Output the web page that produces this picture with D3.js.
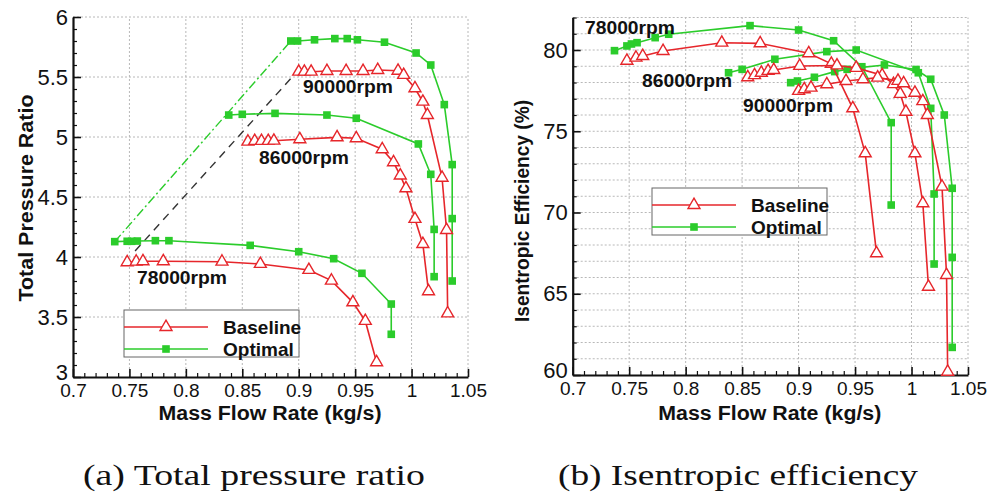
<!DOCTYPE html>
<html>
<head>
<meta charset="utf-8">
<script src="https://cdn.jsdelivr.net/npm/d3@7"></script>
<style>
  html, body { margin: 0; padding: 0; background: #fff; }
  svg { display: block; }
  text { font-family: "Liberation Sans", Arial, sans-serif; fill: #111; }
</style>
</head>
<body>
<svg id="chart" width="1005" height="495"></svg>
<script>
// Operating points per speed line: mass flow (kg/s), total pressure ratio, isentropic efficiency (%)
const flow78B = [0.748, 0.756, 0.762, 0.780, 0.832, 0.866, 0.909, 0.929, 0.948, 0.959, 0.969];
const pr78B   = [3.956, 3.961, 3.964, 3.964, 3.961, 3.942, 3.892, 3.803, 3.622, 3.467, 3.123];
const eff78B  = [79.34, 79.53, 79.63, 79.94, 80.45, 80.41, 79.80, 79.15, 76.41, 73.64, 67.49];

const flow86B = [0.855, 0.861, 0.867, 0.873, 0.878, 0.901, 0.934, 0.951, 0.974, 0.984, 0.990, 0.995, 1.003, 1.010, 1.015];
const pr86B   = [4.961, 4.967, 4.967, 4.967, 4.969, 4.981, 4.997, 4.989, 4.898, 4.789, 4.679, 4.572, 4.317, 4.108, 3.714];
const eff86B  = [78.32, 78.45, 78.60, 78.71, 78.77, 79.02, 79.05, 78.90, 78.45, 77.90, 77.30, 76.20, 73.64, 70.57, 65.43];

const flow90B = [0.900, 0.905, 0.911, 0.925, 0.942, 0.957, 0.970, 0.988, 0.993, 1.003, 1.010, 1.014, 1.027, 1.031, 1.032];
const pr90B   = [5.544, 5.544, 5.544, 5.550, 5.550, 5.550, 5.558, 5.552, 5.517, 5.406, 5.294, 5.183, 4.660, 4.225, 3.530];
const eff90B  = [77.48, 77.58, 77.68, 77.89, 78.09, 78.20, 78.30, 78.10, 77.95, 77.37, 76.85, 76.00, 71.59, 66.15, 60.20];

const flow78O = [0.737, 0.748, 0.752, 0.757, 0.773, 0.785, 0.857, 0.900, 0.931, 0.956, 0.982, 0.982];
const pr78O   = [4.128, 4.131, 4.131, 4.133, 4.136, 4.136, 4.097, 4.044, 3.986, 3.864, 3.608, 3.356];
const eff78O  = [79.96, 80.25, 80.37, 80.45, 80.76, 80.97, 81.50, 81.23, 80.57, 78.97, 75.53, 70.46];

const flow86O = [0.838, 0.850, 0.879, 0.925, 0.951, 1.006, 1.017, 1.020, 1.020];
const pr86O   = [5.183, 5.189, 5.197, 5.183, 5.156, 4.942, 4.689, 4.230, 3.836];
const eff86O  = [78.60, 78.81, 79.43, 79.90, 80.00, 78.60, 76.41, 71.14, 66.83];

const flow90O = [0.893, 0.899, 0.914, 0.932, 0.943, 0.952, 0.976, 1.004, 1.017, 1.029, 1.036, 1.036, 1.036];
const pr90O   = [5.80, 5.80, 5.81, 5.82, 5.82, 5.81, 5.79, 5.70, 5.60, 5.27, 4.77, 4.32, 3.80];
const eff90O  = [77.99, 78.09, 78.32, 78.67, 78.81, 78.90, 79.08, 78.80, 78.20, 76.00, 71.49, 67.24, 61.70];

// Baseline surge line (dashed)
const surgeBaseFlow = [0.755, 0.899];
const surgeBasePR   = [4.05, 5.55];

// Axis ticks
const xTicks   = [0.7, 0.75, 0.8, 0.85, 0.9, 0.95, 1, 1.05];
const xLabels  = ["0.7", "0.75", "0.8", "0.85", "0.9", "0.95", "1", "1.05"];
const prTicks  = [3, 3.5, 4, 4.5, 5, 5.5, 6];
const prLabels = ["3", "3.5", "4", "4.5", "5", "5.5", "6"];
const effTicks = [60, 65, 70, 75, 80];
const effLabels = ["60", "65", "70", "75", "80"];

const speedNames = ["78000rpm", "86000rpm", "90000rpm"];
const seriesNames = ["Baseline", "Optimal"];

const RED = "#e6262b", GREEN = "#2bcc2b";

const svg = d3.select("#chart");

const zip = (xs, ys) => xs.map((x, i) => [x, ys[i]]);

const triSym = d3.symbol().type(d3.symbolTriangle).size(62);
const sqSym = d3.symbol().type(d3.symbolSquare).size(58);

function panel(opt) {
  const { x, y, yTicks, yLabels, yMinor, yGrid, xTitle, yTitle } = opt;
  const g = svg.append("g");
  const [x0, x1] = x.range();
  const [y0, y1] = y.range();

  // dotted grid
  const grid = g.append("g").attr("stroke", "#b8b8b8").attr("stroke-width", 1)
    .attr("stroke-dasharray", "2,2");
  grid.selectAll(".gv").data(xTicks.slice(1)).join("line")
    .attr("x1", d => x(d)).attr("x2", d => x(d)).attr("y1", y0).attr("y2", y1);
  grid.selectAll(".gh").data(yGrid).join("line")
    .attr("y1", d => y(d)).attr("y2", d => y(d)).attr("x1", x0).attr("x2", x1);

  // minor ticks
  const xMinor = d3.range(70, 106).map(v => v / 100).filter(v => Math.round(v * 100) % 5 !== 0);
  g.append("g").attr("transform", `translate(0,${y0})`)
    .call(d3.axisBottom(x).tickValues(xMinor).tickSize(-4).tickFormat(""))
    .call(s => s.select(".domain").remove())
    .selectAll("line").attr("stroke", "#111").attr("stroke-width", 1.2);
  g.append("g").attr("transform", `translate(${x0},0)`)
    .call(d3.axisLeft(y).tickValues(yMinor).tickSize(-4).tickFormat(""))
    .call(s => s.select(".domain").remove())
    .selectAll("line").attr("stroke", "#111").attr("stroke-width", 1.2);

  // major axes
  const ax = g.append("g").attr("transform", `translate(0,${y0})`)
    .call(d3.axisBottom(x).tickValues(xTicks).tickSize(-8).tickSizeOuter(0)
      .tickPadding(7).tickFormat((d, i) => xLabels[i]));
  const ay = g.append("g").attr("transform", `translate(${x0},0)`)
    .call(d3.axisLeft(y).tickValues(yTicks).tickSize(-8).tickSizeOuter(0)
      .tickPadding(5).tickFormat((d, i) => yLabels[i]));
  [ax, ay].forEach(a => {
    a.select(".domain").attr("stroke", "#111").attr("stroke-width", 2.2);
    a.selectAll(".tick line").attr("stroke", "#111").attr("stroke-width", 1.6);
  });
  ax.selectAll("text").attr("font-size", 19).attr("fill", "#222")
    .attr("font-family", "Liberation Sans, Arial, sans-serif");
  ay.selectAll("text").attr("font-size", 22).attr("fill", "#222")
    .attr("font-family", "Liberation Sans, Arial, sans-serif");
  // lowest y label sits a little above the axis corner
  ay.selectAll(".tick").filter((d, i) => i === 0).select("text").attr("dy", "0.1em");

  // axis titles
  g.append("text").attr("x", (x0 + x1) / 2 - 0.5).attr("y", 420)
    .attr("text-anchor", "middle").attr("font-weight", "bold").attr("font-size", 19.5)
    .attr("textLength", 223).attr("lengthAdjust", "spacingAndGlyphs").text(xTitle);
  g.append("text").attr("transform", `translate(${yTitle.x},${yTitle.y}) rotate(-90)`)
    .attr("text-anchor", "middle").attr("font-weight", "bold").attr("font-size", 20)
    .attr("textLength", yTitle.len).attr("lengthAdjust", "spacingAndGlyphs").text(yTitle.text);
  return g;
}

function drawSeries(g, x, y, pts, color, marker) {
  const line = d3.line().x(d => x(d[0])).y(d => y(d[1]));
  g.append("path").attr("d", line(pts)).attr("fill", "none")
    .attr("stroke", color).attr("stroke-width", 1.6);
  g.selectAll(null).data(pts).join("path")
    .attr("transform", d => `translate(${x(d[0])},${y(d[1])})`)
    .attr("d", marker === "tri" ? triSym() : sqSym())
    .attr("fill", marker === "tri" ? "#fff" : color)
    .attr("stroke", color).attr("stroke-width", marker === "tri" ? 1.4 : 0);
}

function legend(g, left, top, w, h) {
  g.append("rect").attr("x", left).attr("y", top).attr("width", w).attr("height", h)
    .attr("fill", "#fff").attr("stroke", "#666").attr("stroke-width", 1);
  const rows = [
    { name: seriesNames[0], color: RED, marker: "tri", dy: 17 },
    { name: seriesNames[1], color: GREEN, marker: "sq", dy: 39 }
  ];
  rows.forEach(r => {
    const yy = top + r.dy;
    g.append("line").attr("x1", left).attr("x2", left + 84).attr("y1", yy).attr("y2", yy)
      .attr("stroke", r.color).attr("stroke-width", 1.6);
    g.append("path").attr("transform", `translate(${left + 42},${yy})`)
      .attr("d", r.marker === "tri" ? triSym() : sqSym())
      .attr("fill", r.marker === "tri" ? "#fff" : r.color)
      .attr("stroke", r.color).attr("stroke-width", r.marker === "tri" ? 1.4 : 0);
    g.append("text").attr("x", left + 99).attr("y", yy + 6.5)
      .attr("font-weight", "bold").attr("font-size", 19).text(r.name);
  });
}

function rpmLabel(g, x, y, pos, text) {
  g.append("text").attr("x", x(pos[0])).attr("y", y(pos[1]))
    .attr("font-weight", "bold").attr("font-size", 18)
    .attr("textLength", 90).attr("lengthAdjust", "spacingAndGlyphs").text(text);
}

// ---------- (a) total pressure ratio ----------
const xL = d3.scaleLinear([0.7, 1.05], [73, 468]);
const yL = d3.scaleLinear([3, 6], [377, 17]);
const gL = panel({
  x: xL, y: yL, yTicks: prTicks, yLabels: prLabels,
  yMinor: d3.range(30, 61).map(v => v / 10).filter(v => Math.round(v * 10) % 5 !== 0),
  yGrid: prTicks.slice(1),
  xTitle: "Mass Flow Rate (kg/s)",
  yTitle: { x: 33, y: 198, len: 207, text: "Total Pressure Ratio" }
});

// surge lines
const lineL = d3.line().x(d => xL(d[0])).y(d => yL(d[1]));
gL.append("path").attr("d", lineL([[flow78O[0], pr78O[0]], [flow90O[0], pr90O[0]]]))
  .attr("fill", "none").attr("stroke", GREEN).attr("stroke-width", 1.4)
  .attr("stroke-dasharray", "9,3,2,3");
gL.append("path").attr("d", lineL(zip(surgeBaseFlow, surgeBasePR)))
  .attr("fill", "none").attr("stroke", "#333").attr("stroke-width", 1.4)
  .attr("stroke-dasharray", "8,6");

drawSeries(gL, xL, yL, zip(flow78O, pr78O), GREEN, "sq");
drawSeries(gL, xL, yL, zip(flow86O, pr86O), GREEN, "sq");
drawSeries(gL, xL, yL, zip(flow90O, pr90O), GREEN, "sq");
drawSeries(gL, xL, yL, zip(flow78B, pr78B), RED, "tri");
drawSeries(gL, xL, yL, zip(flow86B, pr86B), RED, "tri");
drawSeries(gL, xL, yL, zip(flow90B, pr90B), RED, "tri");

rpmLabel(gL, xL, yL, [0.7567, 3.775], speedNames[0]);
rpmLabel(gL, xL, yL, [0.8648, 4.775], speedNames[1]);
rpmLabel(gL, xL, yL, [0.9038, 5.367], speedNames[2]);
legend(gL, 124, 310, 175, 47);

// ---------- (b) isentropic efficiency ----------
const xR = d3.scaleLinear([0.7, 1.05], [572.7, 968]);
const yR = d3.scaleLinear([60, 82], [375, 17.5]);
const gR = panel({
  x: xR, y: yR, yTicks: effTicks, yLabels: effLabels,
  yMinor: d3.range(61, 83).filter(v => v % 5 !== 0),
  yGrid: d3.range(61, 83),
  xTitle: "Mass Flow Rate (kg/s)",
  yTitle: { x: 529, y: 211, len: 222, text: "Isentropic Efficiency (%)" }
});

drawSeries(gR, xR, yR, zip(flow78O, eff78O), GREEN, "sq");
drawSeries(gR, xR, yR, zip(flow86O, eff86O), GREEN, "sq");
drawSeries(gR, xR, yR, zip(flow90O, eff90O), GREEN, "sq");
drawSeries(gR, xR, yR, zip(flow78B, eff78B), RED, "tri");
drawSeries(gR, xR, yR, zip(flow86B, eff86B), RED, "tri");
drawSeries(gR, xR, yR, zip(flow90B, eff90B), RED, "tri");

rpmLabel(gR, xR, yR, [0.7109, 80.98], speedNames[0]);
rpmLabel(gR, xR, yR, [0.7614, 77.72], speedNames[1]);
rpmLabel(gR, xR, yR, [0.8508, 76.18], speedNames[2]);
legend(gR, 652, 188, 175, 47);

// captions
svg.append("text").attr("x", 83).attr("y", 485)
  .attr("font-size", 30)
  .attr("textLength", 342).attr("lengthAdjust", "spacingAndGlyphs")
  .style("font-family", "'Liberation Serif', 'Times New Roman', serif").text("(a) Total pressure ratio");
svg.append("text").attr("x", 558).attr("y", 485)
  .attr("font-size", 30)
  .attr("textLength", 360).attr("lengthAdjust", "spacingAndGlyphs")
  .style("font-family", "'Liberation Serif', 'Times New Roman', serif").text("(b) Isentropic efficiency");
</script>
</body>
</html>
